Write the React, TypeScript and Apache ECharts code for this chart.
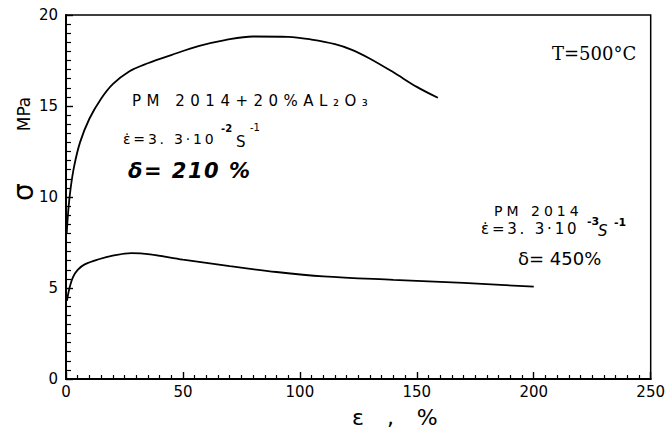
import React, { useEffect, useRef } from "react";
import * as echarts from "echarts";

// Elongation ε (%) and flow stress σ (MPa)
const compositeStrain = [0.3, 1, 2, 3.5, 6, 10, 15, 20, 27, 35, 45, 57, 68, 80, 95, 105, 115, 122, 130, 140, 150, 159];
const compositeStress = [8.0, 9.3, 10.5, 11.7, 13.0, 14.3, 15.4, 16.2, 16.9, 17.35, 17.8, 18.3, 18.62, 18.82, 18.8, 18.65, 18.4, 18.1, 17.6, 16.85, 16.05, 15.45];

const baseStrain = [0.4, 1.5, 3, 5, 8, 14, 20, 28, 36, 50, 70, 90, 110, 140, 170, 200];
const baseStress = [4.3, 5.0, 5.6, 6.0, 6.3, 6.58, 6.78, 6.92, 6.85, 6.56, 6.2, 5.88, 5.64, 5.45, 5.28, 5.07];

const xTickValues = [0, 50, 100, 150, 200, 250];
const yTickValues = [0, 5, 10, 15, 20];

const compositeLabel = "PM 2014+20%AL₂O₃";
const baseLabel = "PM 2014";
const rateMain = "ε̇=3. 3·10";
const compositeElong = "δ= 210 %";
const baseElong = "δ= 450%";
const tempLabel = "T=500°C";
const xTitle = "ε , %";

const SANS = "'DejaVu Sans', sans-serif";

export default function App() {
  const ref = useRef<HTMLDivElement>(null);
  useEffect(() => {
    if (!ref.current) return;
    const chart = echarts.init(ref.current, undefined, { renderer: "svg" });
    const txt = (x: number, y: number, text: string, font: string, extra: any = {}) => ({
      type: "text",
      x,
      y,
      silent: true,
      ...extra,
      style: { text, font, fill: "#000", align: "left", verticalAlign: "middle", ...(extra.style || {}) },
    });
    const option: any = {
      animation: false,
      grid: { left: 66, right: 16, top: 15, bottom: 50, show: true, borderColor: "#000", borderWidth: 1.5 },
      xAxis: {
        type: "value",
        min: xTickValues[0],
        max: xTickValues[xTickValues.length - 1],
        interval: 50,
        axisLine: { show: true, onZero: false, lineStyle: { color: "#000", width: 2 } },
        axisTick: { show: true, inside: true, length: 7, lineStyle: { color: "#000", width: 1.4 } },
        minorTick: { show: true, splitNumber: 10, length: 4, lineStyle: { color: "#000", width: 1.2 } },
        axisLabel: { color: "#000", fontFamily: SANS, fontSize: 15, margin: 5, showMaxLabel: true, showMinLabel: true },
        splitLine: { show: false },
        minorSplitLine: { show: false },
      },
      yAxis: {
        type: "value",
        min: yTickValues[0],
        max: yTickValues[yTickValues.length - 1],
        interval: 5,
        axisLine: { show: true, onZero: false, lineStyle: { color: "#000", width: 2 } },
        axisTick: { show: true, inside: true, length: 7, lineStyle: { color: "#000", width: 1.4 } },
        minorTick: { show: true, splitNumber: 10, length: 5, lineStyle: { color: "#000", width: 1.2 } },
        axisLabel: { color: "#000", fontFamily: SANS, fontSize: 15, margin: 8 },
        splitLine: { show: false },
        minorSplitLine: { show: false },
      },
      series: [
        {
          type: "line",
          name: compositeLabel,
          data: compositeStrain.map((x, i) => [x, compositeStress[i]]),
          symbol: "none",
          smooth: 0.35,
          lineStyle: { color: "#000", width: 1.8 },
        },
        {
          type: "line",
          name: baseLabel,
          data: baseStrain.map((x, i) => [x, baseStress[i]]),
          symbol: "none",
          smooth: 0.35,
          lineStyle: { color: "#000", width: 1.8 },
        },
      ],
      graphic: [
        txt(132, 101, compositeLabel, `15px ${SANS}`),
        txt(123, 139, rateMain, `14px ${SANS}`),
        txt(221, 128, "-2", `bold 10px ${SANS}`),
        txt(236, 142, "S", `15px ${SANS}`),
        txt(250, 127, "-1", `10px ${SANS}`),
        txt(128, 171, compositeElong, `italic bold 21px ${SANS}`),
        txt(552, 53, tempLabel, `18px 'DejaVu Serif', serif`),
        txt(494, 211, baseLabel, `14px ${SANS}`),
        txt(481, 229, rateMain, `15px ${SANS}`),
        txt(587, 221, "-3", `bold 11px ${SANS}`),
        txt(598, 231, "S", `italic 15px ${SANS}`),
        txt(614, 222, "-1", `bold 11px ${SANS}`),
        txt(518, 258, baseElong, `18px ${SANS}`),
        txt(352, 417, xTitle, `22px ${SANS}`),
        txt(23, 192, "σ", `28px ${SANS}`, { rotation: Math.PI / 2, style: { align: "center" } }),
        txt(24, 114, "MPa", `17px ${SANS}`, { rotation: Math.PI / 2, style: { align: "center" } }),
      ],
    };
    chart.setOption(option);
    const spacing: Record<string, string> = {
      [compositeLabel]: "5.5px",
      [baseLabel]: "4px",
      [rateMain]: "2.8px",
      [compositeElong]: "1.5px",
      [xTitle]: "8px",
    };
    ref.current.querySelectorAll("text").forEach((t) => {
      const s = spacing[t.textContent || ""];
      if (s) t.setAttribute("letter-spacing", s);
    });
    return () => chart.dispose();
  }, []);
  return <div ref={ref} style={{ position: "absolute", left: 0, top: 0, width: 668, height: 429 }} />;
}
